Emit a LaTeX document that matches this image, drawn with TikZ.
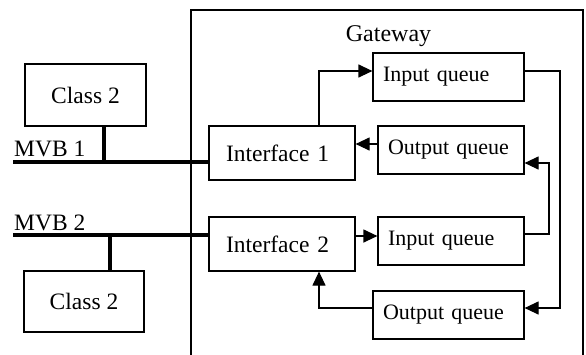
\documentclass[tikz,border=0pt]{standalone}
\usepackage{fontspec}
\setmainfont{Liberation Serif}
\usetikzlibrary{arrows.meta}

\tikzset{
  box/.style={draw, line width=1.2pt, inner ysep=0pt, anchor=center,
    font=\fontsize{23.5}{26}\selectfont},
  qbox/.style={box, text width=#1, align=left, inner xsep=10pt,
    font=\fontsize{22}{26}\selectfont},
  ibox/.style={box, text width=112pt, align=left, inner xsep=17pt},
  link/.style={line width=1.2pt},
  arr/.style={link, -{Triangle[length=14pt,width=13pt]}},
  bus/.style={line width=3.6pt},
  lbl/.style={inner sep=0pt, anchor=base west, font=\fontsize{23.5}{26}\selectfont},
}

\begin{document}
\begin{tikzpicture}[x=1pt, y=-1pt]
  \useasboundingbox (0,0) rectangle (586,354);

  % gateway enclosure, open at the bottom edge
  \draw[link] (191,358) -- (191,10) -- (583,10) -- (583,358);
  \node[lbl, anchor=base, font=\fontsize{24}{26}\selectfont] (gw) at (388.5,41) {Gateway};

  % devices on the buses
  \node[box, minimum width=121pt, minimum height=62pt] (c1) at (85.5,95) {Class 2};
  \node[box, minimum width=120pt, minimum height=61pt] (c2) at (84,301.5) {Class 2};

  % interfaces
  \node[ibox, minimum height=54pt] (if1) at (282,153) {Interface 1};
  \node[ibox, minimum height=54pt] (if2) at (282,244) {Interface 2};

  % queues
  \node[qbox=131pt, minimum height=48pt] (iq1) at (448.5,77) {Input queue};
  \node[qbox=126pt, minimum height=48pt] (oq1) at (451,150) {Output queue};
  \node[qbox=126pt, minimum height=48pt] (iq2) at (451,241) {Input queue};
  \node[qbox=131pt, minimum height=48pt] (oq2) at (448.5,315) {Output queue};

  % bus labels
  \node[lbl] (m1) at (14,156) {MVB 1};
  \node[lbl] (m2) at (14,230) {MVB 2};

  % bus lines and drops
  \coordinate (b1w) at (13,162);
  \coordinate (b1s) at (104,162);
  \coordinate (b2w) at (13,235);
  \coordinate (b2s) at (110,235);
  \draw[bus] (b1w) -- (b1w -| if1.west);
  \draw[bus] (b1s) -- (b1s |- c1.south);
  \draw[bus] (b2w) -- (b2w -| if2.west);
  \draw[bus] (b2s) -- (b2s |- c2.north);

  % routing points
  \coordinate (r1) at (319,71);
  \coordinate (r2) at (560,71);
  \coordinate (r3) at (560,308);
  \coordinate (r4) at (549,234);
  \coordinate (r5) at (549,163);
  \coordinate (r6) at (319,308);
  \coordinate (h1) at (0,144);
  \coordinate (h2) at (0,236);

  % data flow
  \draw[arr] (r1 |- if1.north) -- (r1) -- (r1 -| iq1.west);
  \draw[arr] (oq1.west |- h1) -- (if1.east |- h1);
  \draw[arr] (r2 -| iq1.east) -- (r2) -- (r3) -- (r3 -| oq2.east);
  \draw[arr] (r4 -| iq2.east) -- (r4) -- (r5) -- (r5 -| oq1.east);
  \draw[arr] (if2.east |- h2) -- (iq2.west |- h2);
  \draw[arr] (r6 -| oq2.west) -- (r6) -- (r6 |- if2.south);
\end{tikzpicture}
\end{document}
